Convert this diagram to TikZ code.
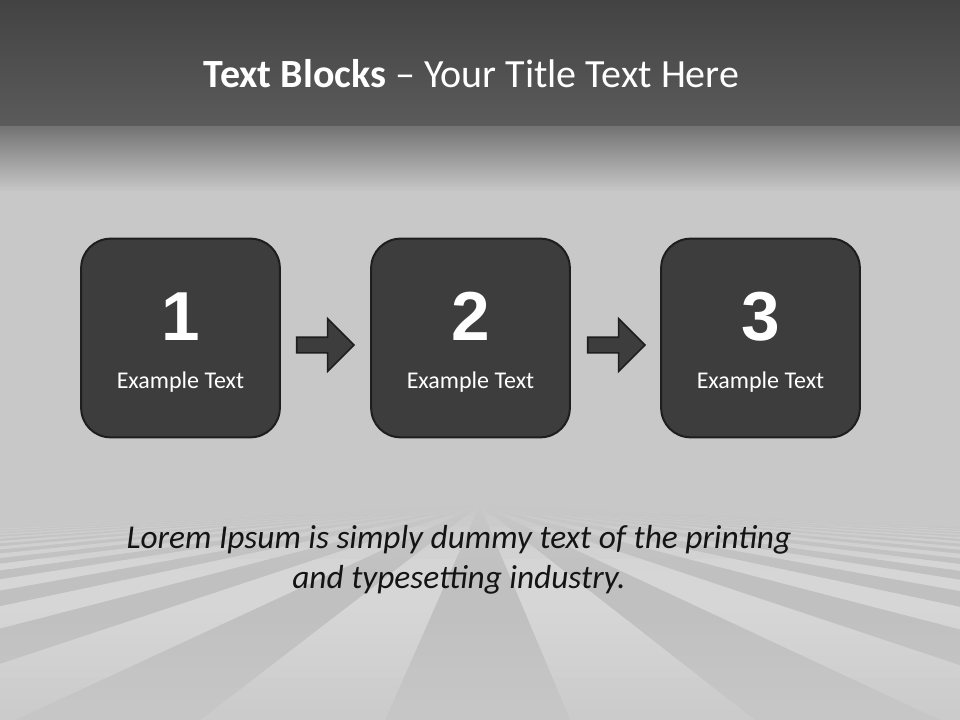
\documentclass[tikz,border=0pt]{standalone}
\usepackage{fontspec}
\setmainfont{Carlito}
\newfontfamily\numfont{Liberation Sans}
\usetikzlibrary{positioning,shapes.arrows,calc}

\definecolor{boxgray}{HTML}{3D3D3D}
\definecolor{boxedge}{HTML}{1E1E1E}
\definecolor{bandtop}{HTML}{434343}
\definecolor{bandbot}{HTML}{5B5B5B}
\definecolor{fadetop}{HTML}{747474}
\definecolor{floorgray}{HTML}{C8C8C8}
\definecolor{raylight}{HTML}{D6D6D6}
\definecolor{raydark}{HTML}{C0C0C0}
\definecolor{inkgray}{HTML}{141414}

\begin{document}
\begin{tikzpicture}[x=0.75pt,y=-0.75pt,node distance=217.5pt,on grid,
    block/.style={rectangle, rounded corners=22pt, draw=boxedge, line width=1.5pt, fill=boxgray, minimum size=149pt, inner sep=0pt},
    number/.style={text=white, font=\numfont\bfseries\fontsize{52}{52}\selectfont, anchor=base, inner sep=0pt},
    caption/.style={text=white, font=\fontsize{18}{21}\selectfont, anchor=base, inner sep=0pt},
    flow/.style={single arrow, draw=boxedge, line width=1.2pt, fill=boxgray, minimum height=43pt, single arrow head extend=14pt, single arrow head indent=0pt, inner xsep=0pt, inner ysep=5.25pt},
    title/.style={text=white, font=\fontsize{30}{36}\selectfont, anchor=base, inner sep=0pt},
    lorem/.style={text=inkgray, font=\itshape\fontsize{25}{30}\selectfont, align=center, anchor=base, inner sep=0pt}
    ]

    \useasboundingbox (0,0) rectangle (960,720);

    % backdrop
    \shade[top color=bandtop, bottom color=bandbot] (0,0) rectangle (960,127);
    \shade[top color=fadetop, bottom color=floorgray] (0,127) rectangle (960,192);
    \fill[floorgray] (0,191) rectangle (960,720);

    % floor rays, drawn in slices so they fade at the horizon and at the bottom
    \begin{scope}
        \clip (0,505) rectangle (960,720);
        \foreach \j in {0,...,19} {
            \pgfmathsetmacro\ya{10.75*\j}
            \pgfmathsetmacro\yb{10.75*(\j+1)+1}
            \pgfmathsetmacro\tm{(\j+0.5)/20}
            \pgfmathsetmacro\pc{\tm<0.3 ? 100*\tm/0.3 : (\tm<0.5 ? 100 : 100-170*(\tm-0.5))}
            \colorlet{lightnow}{raylight!\pc!floorgray}
            \colorlet{darknow}{raydark!\pc!floorgray}
            \foreach \k in {-24,...,23} {
                \pgfmathsetmacro\sa{0.42+0.86*\k}
                \pgfmathsetmacro\sb{0.42+0.86*(\k+1)}
                \ifodd\k
                    \fill[darknow] (480+\sa*\ya,505+\ya) -- (480+\sb*\ya,505+\ya) -- (480+\sb*\yb,505+\yb) -- (480+\sa*\yb,505+\yb) -- cycle;
                \else
                    \fill[lightnow] (480+\sa*\ya,505+\ya) -- (480+\sb*\ya,505+\ya) -- (480+\sb*\yb,505+\yb) -- (480+\sa*\yb,505+\yb) -- cycle;
                \fi
            }
        }
    \end{scope}

    \node[title] (title) at (471.5,88) {\textbf{Text Blocks} -- Your Title Text Here};

    \node[block] (b1) at (180.5,338) {};
    \node[block] (b2) [right=of b1] {};
    \node[block] (b3) [right=of b2] {};

    \node[number] (n1) at ([yshift=-1.5pt]b1.center) {1};
    \node[number] (n2) at ([yshift=-1.5pt]b2.center) {2};
    \node[number] (n3) at ([yshift=-1.5pt]b3.center) {3};

    \node[caption] (c1) at ([yshift=-38pt]b1.center) {Example Text};
    \node[caption] (c2) at ([yshift=-38pt]b2.center) {Example Text};
    \node[caption] (c3) at ([yshift=-38pt]b3.center) {Example Text};

    \node[flow] (a1) at ($(b1.east)!0.5!(b2.west)+(-4,7)$) {};
    \node[flow] (a2) at ($(b2.east)!0.5!(b3.west)+(-3,7)$) {};

    \node[lorem] (lorem) at (459,588) {Lorem Ipsum is simply dummy text of the printing\\and typesetting industry.};
\end{tikzpicture}
\end{document}
